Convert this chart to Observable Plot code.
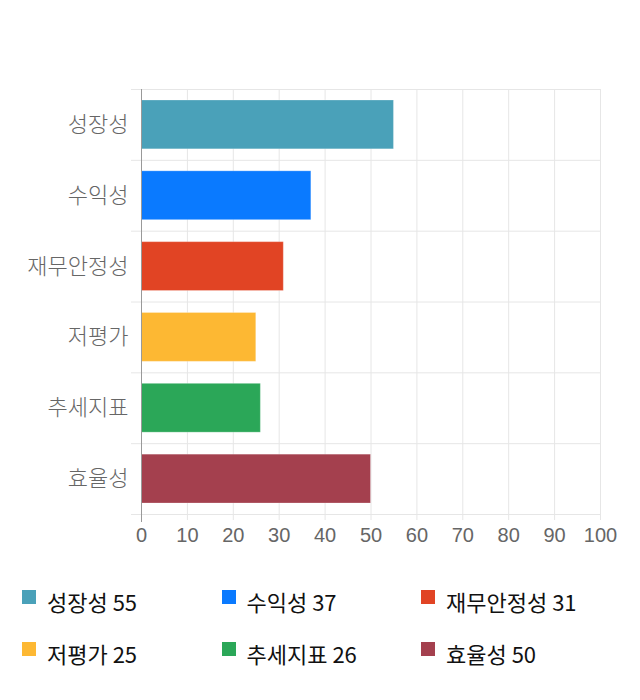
<!DOCTYPE html>
<html>
<head>
<meta charset="utf-8">
<script src="https://cdn.jsdelivr.net/npm/d3@7"></script>
<script src="https://cdn.jsdelivr.net/npm/@observablehq/plot@0.6"></script>
<style>
  html, body { margin: 0; padding: 0; background: #fff; }
  #chart svg { display: block; }
  #legend {
    position: relative;
    padding-left: 22px;
    margin-top: 30px;
    display: grid;
    grid-template-columns: repeat(3, 199.5px);
    grid-auto-rows: 52px;
    font-family: "Noto Sans CJK KR", sans-serif;
    font-size: 22px;
    color: #111;
  }
  .item { display: flex; align-items: flex-start; line-height: 22px; white-space: nowrap; }
  .sw { width: 14px; height: 14px; margin-top: 0px; margin-right: 11px; flex: none; }
</style>
</head>
<body>
<div id="chart"></div>
<div id="legend"></div>
<script>
const categories = ["성장성", "수익성", "재무안정성", "저평가", "추세지표", "효율성"];
const values = [55, 37, 31, 25, 26, 50];
const colors = ["#4aa1b9", "#0a7aff", "#e14424", "#fdb833", "#2ba758", "#a4404e"];
const xTicks = [0, 10, 20, 30, 40, 50, 60, 70, 80, 90, 100];

const data = categories.map((c, i) => ({category: c, value: values[i], index: i, color: colors[i]}));
const boundaries = d3.range(categories.length + 1);
const labelPositions = categories.map((c, i) => i + 0.5);

const chart = Plot.plot({
  width: 640,
  height: 560,
  marginLeft: 141,
  marginRight: 40,
  marginTop: 89,
  marginBottom: 46,
  style: {fontFamily: "'Liberation Sans', Arial, 'Noto Sans CJK KR', sans-serif", fontSize: "20px", color: "#666", background: "#fff"},
  x: {domain: [0, 100], label: null},
  y: {domain: [0, categories.length], reverse: true, label: null},
  marks: [
    Plot.ruleX(xTicks.slice(1), {stroke: "#e6e6e6", strokeWidth: 1, insetBottom: -6}),
    Plot.ruleY(boundaries, {stroke: "#e6e6e6", strokeWidth: 1, insetLeft: -10}),
    Plot.rectX(data, {
      x1: 0,
      x2: "value",
      y1: "index",
      y2: d => d.index + 1,
      fill: "color",
      stroke: "#ffffff",
      strokeOpacity: 0.25,
      insetTop: 11,
      insetBottom: 11
    }),
    Plot.ruleX([0], {stroke: "#999", strokeWidth: 1, insetBottom: -8}),
    Plot.axisX({ticks: xTicks, tickSize: 0, tickPadding: 13, fontSize: 20, color: "#666", label: null}),
    Plot.axisY({
      ticks: labelPositions,
      tickFormat: v => categories[Math.floor(v)],
      tickSize: 0,
      tickPadding: 13,
      fontSize: 22,
      label: null
    })
  ]
});
chart.querySelectorAll("[aria-label='y-axis tick label']").forEach(el => {
  el.setAttribute("font-family", "'Noto Sans CJK KR', sans-serif");
  el.setAttribute("font-weight", "300");
});
document.getElementById("chart").appendChild(chart);

const legend = document.getElementById("legend");
data.forEach(d => {
  const item = document.createElement("div");
  item.className = "item";
  const sw = document.createElement("span");
  sw.className = "sw";
  sw.style.background = d.color;
  const label = document.createElement("span");
  label.textContent = `${d.category} ${d.value}`;
  item.appendChild(sw);
  item.appendChild(label);
  legend.appendChild(item);
});
</script>
</body>
</html>
